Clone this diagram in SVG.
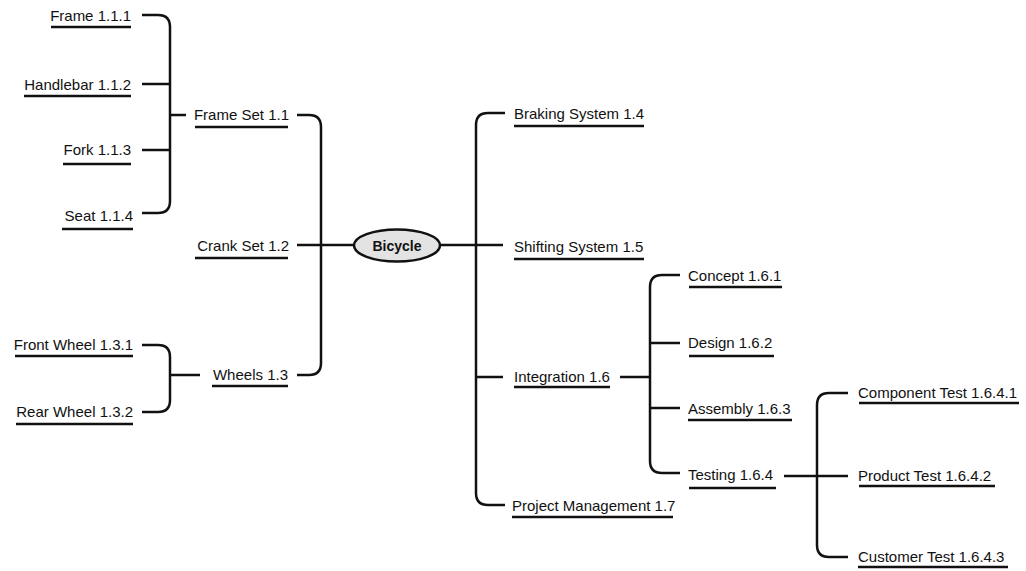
<svg xmlns="http://www.w3.org/2000/svg" width="1026" height="571" viewBox="0 0 1026 571">
<style>
.t{font-family:"Liberation Sans",Arial,sans-serif;font-size:15px;fill:#111}
.e{text-anchor:end}
.u{stroke:#111;stroke-width:2.5;fill:none}
.c{stroke:#111;stroke-width:2.5;fill:none;stroke-linejoin:round}
.root{fill:#e3e3e3;stroke:#111;stroke-width:2.5}
.rt{font-family:"Liberation Sans",Arial,sans-serif;font-size:14px;font-weight:bold;fill:#111;text-anchor:middle}
</style>
<rect width="1026" height="571" fill="#fff"/>
<g id="connectors">
<path class="c" d="M142,15 H158 Q170,15 170,27 V201 Q170,213 158,213 H142"/>
<path class="c" d="M142,84 H170 M142,150 H170 M170,115 H186"/>
<path class="c" d="M297,115 H309 Q321,115 321,127 V363 Q321,375 309,375 H297"/>
<path class="c" d="M297,245 H354"/>
<path class="c" d="M142,345 H158 Q170,345 170,357 V400 Q170,412 158,412 H142 M170,375 H200"/>
<path class="c" d="M440,245 H503"/>
<path class="c" d="M505,113 H488 Q476,113 476,125 V493 Q476,505 488,505 H505 M476,377 H503"/>
<path class="c" d="M620,377 H650 M680,275 H662 Q650,275 650,287 V461 Q650,473 662,473 H680 M650,343 H680 M650,408 H680"/>
<path class="c" d="M784,476 H848 M848,393 H829 Q817,393 817,405 V545 Q817,557 829,557 H848"/>
</g>
<g id="n1"><ellipse class="root" cx="397" cy="245.5" rx="43" ry="16"/><text class="rt" x="397" y="251">Bicycle</text></g>
<g id="n1-1"><text class="t e" x="289" y="120">Frame Set 1.1</text><path class="u" d="M195,127 H288"/></g>
<g id="n1-1-1"><text class="t e" x="131" y="21">Frame 1.1.1</text><path class="u" d="M51,27 H131"/></g>
<g id="n1-1-2"><text class="t e" x="131" y="90">Handlebar 1.1.2</text><path class="u" d="M24,96 H131"/></g>
<g id="n1-1-3"><text class="t e" x="131" y="155">Fork 1.1.3</text><path class="u" d="M63,164 H131"/></g>
<g id="n1-1-4"><text class="t e" x="133" y="221">Seat 1.1.4</text><path class="u" d="M62,229 H133"/></g>
<g id="n1-2"><text class="t e" x="289" y="251">Crank Set 1.2</text><path class="u" d="M195,258 H288"/></g>
<g id="n1-3"><text class="t e" x="288" y="380">Wheels 1.3</text><path class="u" d="M212,386 H288"/></g>
<g id="n1-3-1"><text class="t e" x="133" y="350">Front Wheel 1.3.1</text><path class="u" d="M15,356 H133"/></g>
<g id="n1-3-2"><text class="t e" x="133" y="417">Rear Wheel 1.3.2</text><path class="u" d="M16,424 H133"/></g>
<g id="n1-4"><text class="t" x="514" y="119">Braking System 1.4</text><path class="u" d="M514,126 H644"/></g>
<g id="n1-5"><text class="t" x="514" y="252">Shifting System 1.5</text><path class="u" d="M514,259 H644"/></g>
<g id="n1-6"><text class="t" x="514" y="382">Integration 1.6</text><path class="u" d="M514,387 H610"/></g>
<g id="n1-6-1"><text class="t" x="688" y="281">Concept 1.6.1</text><path class="u" d="M689,287 H782"/></g>
<g id="n1-6-2"><text class="t" x="688" y="348">Design 1.6.2</text><path class="u" d="M689,356 H774"/></g>
<g id="n1-6-3"><text class="t" x="688" y="414">Assembly 1.6.3</text><path class="u" d="M688,420 H792"/></g>
<g id="n1-6-4"><text class="t" x="688" y="480">Testing 1.6.4</text><path class="u" d="M689,488 H776"/></g>
<g id="n1-6-4-1"><text class="t" x="858" y="398">Component Test 1.6.4.1</text><path class="u" d="M859,403 H1019"/></g>
<g id="n1-6-4-2"><text class="t" x="858" y="481">Product Test 1.6.4.2</text><path class="u" d="M859,486 H995"/></g>
<g id="n1-6-4-3"><text class="t" x="858" y="562">Customer Test 1.6.4.3</text><path class="u" d="M858,567 H1008"/></g>
<g id="n1-7"><text class="t" x="512" y="511">Project Management 1.7</text><path class="u" d="M512,517 H673"/></g>
</svg>
